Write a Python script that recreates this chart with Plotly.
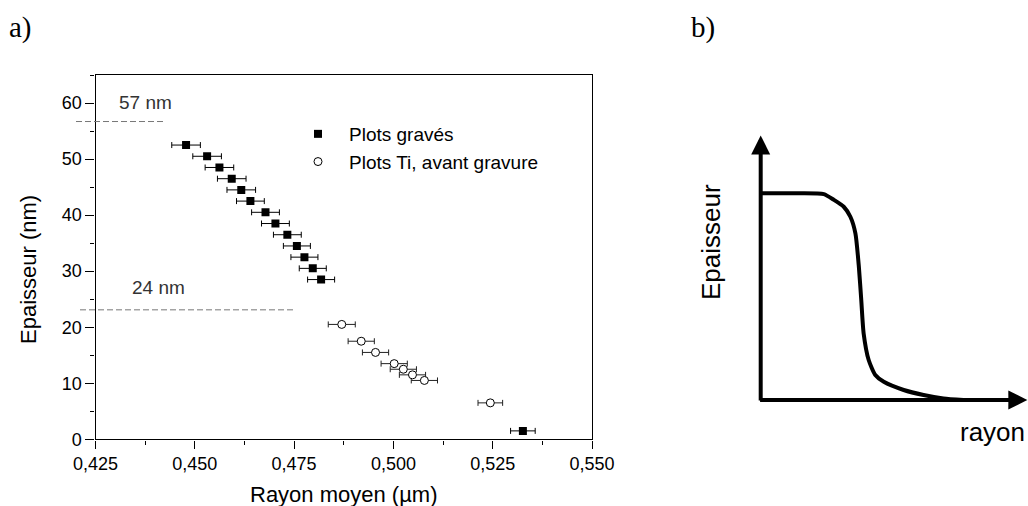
import plotly.graph_objects as go

# ---------------- data : panel a ----------------
rayon_graves = [0.4478, 0.4531, 0.4562, 0.4593, 0.4617, 0.4640, 0.4678,
                0.4703, 0.4733, 0.4757, 0.4776, 0.4797, 0.4818, 0.5326]
ep_graves = [52.5, 50.5, 48.5, 46.5, 44.5, 42.5, 40.5,
             38.5, 36.5, 34.5, 32.5, 30.5, 28.5, 1.5]
err_graves = [0.0036, 0.0036, 0.0036, 0.0036, 0.0036, 0.0035, 0.0035,
              0.0035, 0.0035, 0.0034, 0.0034, 0.0034, 0.0034, 0.0031]

rayon_ti = [0.4870, 0.4919, 0.4955, 0.5002, 0.5025, 0.5048, 0.5078, 0.5244]
ep_ti = [20.5, 17.5, 15.5, 13.5, 12.5, 11.5, 10.5, 6.5]
err_ti = [0.0034, 0.0033, 0.0033, 0.0033, 0.0033, 0.0033, 0.0033, 0.0031]

ref_levels = [56.7, 23.1]
ref_labels = ["57 nm", "24 nm"]

x_tickvals = [0.425, 0.450, 0.475, 0.500, 0.525, 0.550]
x_ticktext = ["0,425", "0,450", "0,475", "0,500", "0,525", "0,550"]
y_tickvals = [0, 10, 20, 30, 40, 50, 60]
y_ticktext = ["0", "10", "20", "30", "40", "50", "60"]

# ---------------- data : panel b (schematic) ----------------
sch_rayon = [0, 12, 23.8, 27.6, 31.3, 33.8, 35.7, 37.0, 37.9, 38.8, 40.7,
             43.2, 46.4, 53.9, 61.4, 68.9, 76.4]
sch_ep = [78.5, 78.5, 78.2, 76.0, 73.4, 69.6, 63.3, 50.6, 38.0, 25.3, 15.2,
          9.5, 6.9, 3.8, 1.9, 0.6, 0]

# ---------------- layout helpers ----------------
W, H = 1028, 506


def px(x):
    return x / W


def py(y):
    return 1 - y / H


FONT = "Liberation Sans, Arial, sans-serif"
SERIF = "Liberation Serif, Times New Roman, serif"

fig = go.Figure()

fig.add_trace(go.Scatter(
    x=rayon_graves, y=ep_graves, mode="markers", name="Plots gravés",
    marker=dict(symbol="square", size=8, color="black",
                line=dict(color="black", width=0)),
    error_x=dict(type="data", array=err_graves, visible=True,
                 color="black", thickness=1, width=3),
    xaxis="x", yaxis="y"))

fig.add_trace(go.Scatter(
    x=rayon_ti, y=ep_ti, mode="markers", name="Plots Ti, avant gravure",
    marker=dict(symbol="circle", size=8, color="white",
                line=dict(color="black", width=1)),
    error_x=dict(type="data", array=err_ti, visible=True,
                 color="#222222", thickness=1, width=3),
    xaxis="x", yaxis="y"))

fig.add_trace(go.Scatter(
    x=sch_rayon, y=sch_ep, mode="lines", showlegend=False,
    line=dict(color="black", width=4, shape="spline", smoothing=0.6),
    xaxis="x2", yaxis="y2", hoverinfo="skip"))

shapes = []
annotations = []

# dashed reference lines (start left of the axis)
dash_x = [(76, 163), (80, 293)]
for lvl, (x0, x1) in zip(ref_levels, dash_x):
    shapes.append(dict(type="line", xref="paper", yref="y",
                       x0=px(x0), x1=px(x1), y0=lvl, y1=lvl,
                       line=dict(color="#777777", width=1, dash="6px,3px")))

label_pos = [(145, 103), (158, 287)]
for txt, (lx, ly) in zip(ref_labels, label_pos):
    annotations.append(dict(text=txt, xref="paper", yref="paper",
                            x=px(lx), y=py(ly), showarrow=False,
                            xanchor="center", yanchor="middle",
                            font=dict(family=FONT, size=19, color="#333333")))

# axis titles panel a
annotations.append(dict(text="Rayon moyen (µm)", xref="paper", yref="paper",
                        x=px(343.7), y=py(494), showarrow=False,
                        xanchor="center", yanchor="middle",
                        font=dict(family=FONT, size=22, color="black")))
annotations.append(dict(text="Epaisseur (nm)", xref="paper", yref="paper",
                        x=px(28), y=py(270), showarrow=False, textangle=-90,
                        xanchor="center", yanchor="middle",
                        font=dict(family=FONT, size=22, color="black")))

# panel labels
annotations.append(dict(text="a)", xref="paper", yref="paper",
                        x=px(20), y=py(27), showarrow=False,
                        xanchor="center", yanchor="middle",
                        font=dict(family=SERIF, size=29, color="black")))
annotations.append(dict(text="b)", xref="paper", yref="paper",
                        x=px(703), y=py(27), showarrow=False,
                        xanchor="center", yanchor="middle",
                        font=dict(family=SERIF, size=29, color="black")))

# panel b axes as arrows
annotations.append(dict(x=0, y=100.5, ax=0, ay=-0.8, xref="x2", yref="y2",
                        axref="x2", ayref="y2", text="", showarrow=True,
                        arrowhead=2, arrowsize=0.95, arrowwidth=4,
                        arrowcolor="black"))
annotations.append(dict(x=100.5, y=0, ax=-0.8, ay=0, xref="x2", yref="y2",
                        axref="x2", ayref="y2", text="", showarrow=True,
                        arrowhead=2, arrowsize=0.95, arrowwidth=4,
                        arrowcolor="black"))
annotations.append(dict(text="Epaisseur", xref="paper", yref="paper",
                        x=px(710.5), y=py(242.5), showarrow=False,
                        textangle=-90, xanchor="center", yanchor="middle",
                        font=dict(family=FONT, size=26, color="black")))
annotations.append(dict(text="rayon", xref="paper", yref="paper",
                        x=px(1027), y=py(432), showarrow=False,
                        xanchor="right", yanchor="middle",
                        font=dict(family=FONT, size=26, color="black")))

# panel b ranges (schematic units: 0 at origin, 100 at arrow tips)
bx0, bx100 = 760.7, 1026.0
by0, by100 = 400.0, 136.7
sx = (bx100 - bx0) / 100
sy = (by0 - by100) / 100
b_dom_left = 700
x2_range = [(b_dom_left - bx0) / sx, (W - bx0) / sx]
y2_range = [(by0 - H) / sy, (by0 - 0) / sy]

fig.update_layout(
    width=W, height=H,
    margin=dict(l=0, r=0, t=0, b=0),
    paper_bgcolor="white", plot_bgcolor="white",
    font=dict(family=FONT, color="black"),
    xaxis=dict(domain=[px(95.5), px(592)], range=[0.425, 0.550],
               tickmode="array", tickvals=x_tickvals, ticktext=x_ticktext,
               ticks="outside", ticklen=8, tickwidth=1.3, tickcolor="black",
               showline=True, linecolor="black", linewidth=1.4, mirror=True,
               showgrid=False, zeroline=False, automargin=False,
               tickfont=dict(family=FONT, size=18, color="black"),
               minor=dict(dtick=0.0125, tick0=0.425, ticks="outside",
                          ticklen=4, tickwidth=1.2, tickcolor="black",
                          showgrid=False),
               anchor="y"),
    yaxis=dict(domain=[py(439.3), py(75)], range=[0, 65],
               tickmode="array", tickvals=y_tickvals, ticktext=y_ticktext,
               ticks="outside", ticklen=9, tickwidth=1.3, tickcolor="black",
               showline=True, linecolor="black", linewidth=1.4, mirror=True,
               showgrid=False, zeroline=False, automargin=False,
               tickfont=dict(family=FONT, size=18, color="black"),
               minor=dict(dtick=5, tick0=0, ticks="outside",
                          ticklen=4, tickwidth=1.2, tickcolor="black",
                          showgrid=False),
               anchor="x"),
    xaxis2=dict(domain=[px(b_dom_left), 1], range=x2_range, visible=False,
                anchor="y2"),
    yaxis2=dict(domain=[0, 1], range=y2_range, visible=False, anchor="x2"),
    legend=dict(x=px(287), y=py(115), xanchor="left", yanchor="top",
                bgcolor="rgba(0,0,0,0)", borderwidth=0, itemwidth=52,
                font=dict(family=FONT, size=19, color="black"),
                tracegroupgap=4),
    shapes=shapes,
    annotations=annotations,
)

fig.write_html("out.html")
